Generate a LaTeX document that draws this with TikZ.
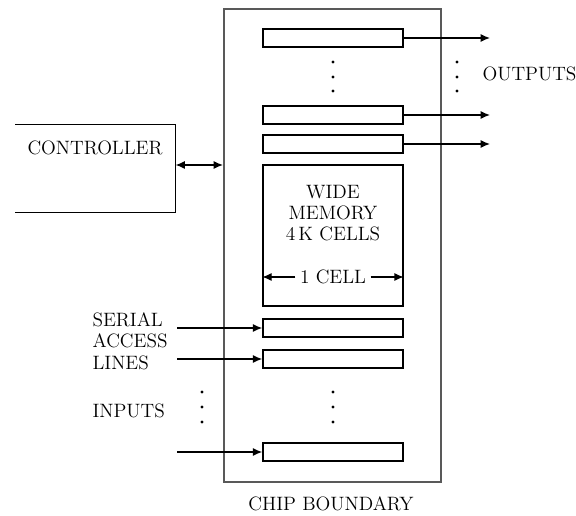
\documentclass[tikz,border=0pt]{standalone}
\usetikzlibrary{arrows.meta}
\begin{document}
\begin{tikzpicture}[x=0.75pt, y=-0.75pt,
		>={Latex[length=7pt,width=6pt]},   % pfeilspitzen
		line width=0.9pt,
		reg/.style={draw, line width=1.1pt, minimum width=105pt, minimum height=13.5pt, inner sep=0pt},
		lab/.style={font=\fontsize{14.5}{16}\selectfont, inner sep=0pt},
		dot/.style={fill=black, circle, inner sep=0pt, minimum size=2.4pt}]
		\useasboundingbox (0,0) rectangle (576,516);
		% Chip-Rand
		\node[draw=black!65, line width=1.5pt, minimum width=162.75pt, minimum height=354.75pt, inner sep=0pt] (chip) at (332.5,245.5) {};
		\node[lab] (chiplab) at (331,504) {CHIP BOUNDARY};
		% Register
		\node[reg] (o1) at (333,38) {};
		\node[reg] (o2) at (333,115) {};
		\node[reg] (o3) at (333,144) {};
		\node[reg] (s1) at (333,328) {};
		\node[reg] (s2) at (333,359) {};
		\node[reg] (s3) at (333,452) {};
		% Speicher
		\node[draw, line width=1.1pt, minimum width=105pt, minimum height=105.75pt, inner sep=0pt] (mem) at (333,235.5) {};
		\node[lab, align=center] (memlab) at (333,213) {WIDE\\MEMORY\\4\,K CELLS};
		\node[lab, inner xsep=3pt] (cell) at (333,277) {1 CELL};
		\draw[->] (cell.west) -- (mem.west |- cell.west);
		\draw[->] (cell.east) -- (mem.east |- cell.east);
		% Controller
		\node[minimum width=119.25pt, minimum height=65.25pt, inner sep=0pt] (ctrl) at (95.5,168.5) {};
		\draw (ctrl.north west) -- (ctrl.north east) -- (ctrl.south east) -- (ctrl.south west);
		\node[lab] (ctrllab) at (95,148) {CONTROLLER};
		\draw[<->] (ctrl.east |- 0,165) -- (chip.west |- 0,165);
		% Ausgaenge
		\coordinate (outx) at (490,0);
		\foreach \r in {o1,o2,o3} \draw[->] (\r.east) -- (\r.east -| outx);
		\node[lab, anchor=west] (outlab) at (482,74) {OUTPUTS};
		% Eingaenge
		\coordinate (inx) at (177,0);
		\foreach \r in {s1,s2,s3} \draw[->] (inx |- \r.west) -- (\r.west);
		\node[lab, align=left, anchor=west] (serlab) at (92,341) {SERIAL\\ACCESS\\LINES};
		\node[lab, anchor=west] (inlab) at (92,411) {INPUTS};
		% Punkte
		\foreach \y in {62,77,91} {
			\node[dot] at (333,\y) {};
			\node[dot] at (457,\y) {};
		}
		\foreach \y in {392,407,422} {
			\node[dot] at (333,\y) {};
			\node[dot] at (202,\y) {};
		}
	\end{tikzpicture}
\end{document}
